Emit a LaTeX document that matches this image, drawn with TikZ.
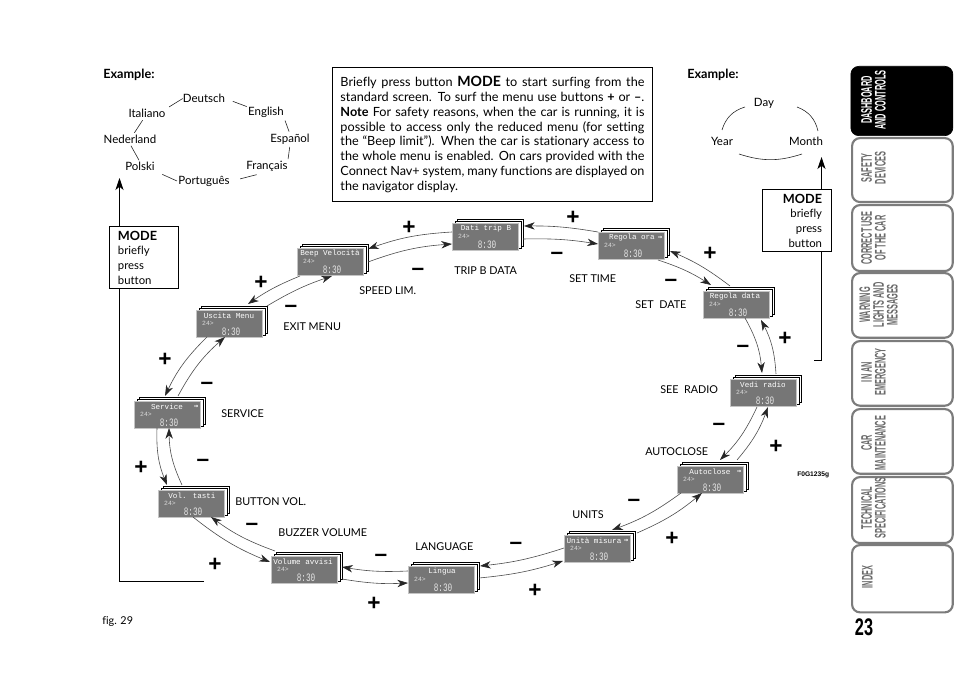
\documentclass[tikz,border=0pt]{standalone}
\usepackage{fontspec}
\usepackage{graphicx}
\setmainfont[Ligatures=NoCommon]{Lato}
\newfontfamily\lcd{Liberation Mono}
\newfontfamily\symb{Liberation Sans}
\newfontfamily\arrowfont{DejaVu Sans Mono}
\usetikzlibrary{arrows.meta}
\definecolor{scrgray}{HTML}{767676}
\definecolor{scredge}{HTML}{C4C4C4}
\definecolor{tabgray}{HTML}{7C7C7C}
\definecolor{tabtext}{HTML}{6A6A6A}
\tikzset{
  scr/.style={draw=scredge,fill=scrgray,line width=.5pt,minimum width=49.5pt,minimum height=20pt,inner sep=0pt,anchor=north west},
  scrback/.style={draw=black,fill=white,line width=.7pt,minimum width=49.5pt,minimum height=20pt,inner sep=0pt,anchor=north west},
  scrtitle/.style={text=white,font=\lcd\fontsize{5.7}{6}\selectfont,inner sep=0pt},
  scrsmall/.style={text=white!85!black,font=\lcd\fontsize{4.8}{5}\selectfont,inner sep=0pt},
  scrtime/.style={text=white!90!black,font=\lcd\fontsize{8.5}{9}\selectfont,inner sep=0pt},
  flow/.style={draw=black!70,line width=.45pt,-{Stealth[length=8pt,width=5.5pt,inset=2.4pt,color=black!85,fill=black!85]}},
  lbl/.style={font=\fontsize{8.1}{10}\selectfont,inner sep=0pt,anchor=west,yshift=-.6pt},
  lang/.style={font=\fontsize{8.6}{10}\selectfont,inner sep=0pt,yshift=-.4pt},
  thinline/.style={draw=black!85,line width=.45pt},
  modebox/.style={draw=black,line width=.7pt,fill=white,font=\fontsize{8.5}{11}\selectfont,inner xsep=6.75pt,inner ysep=0pt,text width=38.3pt,minimum height=46.5pt},
  modeline/.style={draw=black,line width=.7pt},
  modetip/.style={-{Stealth[length=9pt,width=6pt,inset=2.5pt]}},
  pm/.style={font=\symb\bfseries\fontsize{17}{17}\selectfont,inner sep=0pt,yshift=-1.4pt},
  tab/.style={draw=tabgray,line width=1.6pt,fill=white,rounded corners=6pt,minimum width=75.5pt,inner sep=0pt,anchor=north west},
  tabdark/.style={draw=black,line width=.5pt,fill=black,rounded corners=6pt,minimum width=76.5pt,inner sep=0pt,anchor=north west},
  tabtxt/.style={text=tabtext,inner sep=0pt,rotate=90,font=\symb\bfseries\fontsize{11.5}{9.6}\selectfont},
}
\newcommand\screen[6]{%
  \node[scrback] (#1-b) at (#2+4.5,#3-4) {};
  \node[scrback] (#1-a) at (#2+2.5,#3-2) {};
  \node[scr] (#1) at (#2,#3) {};
  \node[scrtitle] (#1-t) at (#2+#5,#3+6) {#4};
  \node[scrsmall] (#1-s) at (#2+12,#3+13) {24>};
  \node[scrtime,xscale=.68] (#1-h) at (#2+35,#3+21.5) {8:30};
  \node[scrtitle] (#1-r) at (#2+62,#3+6) {#6};
}
\newcommand\flowto[5]{\draw[flow] ([shift={(#2)}]#1.north west) to[bend right=#5] ([shift={(#4)}]#3.north west);}
\newcommand\tabwords[1]{\scalebox{.48}[1]{\renewcommand\arraystretch{.8}\begin{tabular}{@{}c@{}}#1\end{tabular}}}
\newcommand\rar{{\arrowfont\bfseries\fontsize{5.5}{5}\selectfont →}}
\newcommand\bigmode{\textbf{\fontsize{9.5}{11}\selectfont MODE}}
\setlength{\parindent}{0pt}
\begin{document}
\begin{tikzpicture}[x=.75pt,y=-.75pt]
\useasboundingbox (0,0) rectangle (954,698);

% side tabs
\node[tabdark,minimum height=52pt] (tab1) at (850.5,66) {};
\node[tab,minimum height=48pt] (tab2) at (851,137) {};
\node[tab,minimum height=49.5pt] (tab3) at (851,204) {};
\node[tab,minimum height=48.5pt] (tab4) at (851,272) {};
\node[tab,minimum height=48.5pt] (tab5) at (851,340) {};
\node[tab,minimum height=48.5pt] (tab6) at (851,408) {};
\node[tab,minimum height=49.5pt] (tab7) at (851,476) {};
\node[tab,minimum height=50.5pt] (tab8) at (851,544) {};
\node[tabtxt,text=white] (tx1) at (875,100) {\tabwords{DASHBOARD\\AND CONTROLS}};
\node[tabtxt] (tx2) at (875,168) {\tabwords{SAFETY\\DEVICES}};
\node[tabtxt] (tx3) at (875,238) {\tabwords{CORRECT USE\\OF THE CAR}};
\node[tabtxt] (tx4) at (880,305) {\tabwords{WARNING\\LIGHTS AND\\MESSAGES}};
\node[tabtxt] (tx5) at (875,372) {\tabwords{IN AN\\EMERGENCY}};
\node[tabtxt] (tx6) at (875,443) {\tabwords{CAR\\MAINTENANCE}};
\node[tabtxt] (tx7) at (875,508) {\tabwords{TECHNICAL\\SPECIFICATIONS}};
\node[tabtxt] (tx8) at (869,577) {\tabwords{INDEX}};
\node[inner sep=0pt,font=\symb\bfseries\fontsize{18}{18}\selectfont] (pagenum) at (864,627) {\scalebox{.68}[1]{23}};

% paragraph
\node[draw=black,line width=.7pt,anchor=north west,inner xsep=6pt,inner ysep=6.75pt,text width=228pt,align=justify,font=\fontsize{9.5}{11.1}\selectfont] (para) at (332,67) {Briefly press button \textbf{\fontsize{10.6}{11.1}\selectfont MODE} to start surfing from the\linebreak
standard screen. To surf the menu use buttons \textbf{+} or \textbf{–}.\linebreak
\textbf{Note} For safety reasons, when the car is running, it is\linebreak
possible to access only the reduced menu (for setting\linebreak
the “Beep limit”). When the car is stationary access to\linebreak
the whole menu is enabled. On cars provided with the\linebreak
Connect Nav+ system, many functions are displayed on\linebreak
the navigator display.};

% example labels
\node[lbl,font=\bfseries\fontsize{9.5}{10}\selectfont] (ex1) at (103,74) {Example:};
\node[lbl,font=\bfseries\fontsize{9.5}{10}\selectfont] (ex2) at (687,74) {Example:};
\node[lbl] (fig) at (102,620.5) {fig. 29};
\node[lbl,font=\symb\bfseries\fontsize{5}{6}\selectfont] (code) at (797,474) {F0G1235g};

% language ring
\node[lang] (deutsch) at (204,98) {Deutsch};
\node[lang] (english) at (266,112) {English};
\node[lang] (espanol) at (290,139) {Español};
\node[lang] (francais) at (267,166) {Français};
\node[lang] (portugues) at (204,181) {Português};
\node[lang] (polski) at (140,166) {Polski};
\node[lang] (nederland) at (130,139) {Nederland};
\node[lang] (italiano) at (147,113) {Italiano};
\draw[thinline,shorten >=3pt] (deutsch.west) -- (italiano.north east);
\draw[thinline,shorten <=6pt,shorten >=1pt] (deutsch.east) -- (english.north west);
\draw[thinline,shorten <=2pt,shorten >=2pt] (english.south east) -- (espanol.north);
\draw[thinline,shorten <=1.5pt,shorten >=1.5pt] (espanol.south) -- (francais.north east);
\draw[thinline,shorten <=8pt,shorten >=8pt] (francais.south) -- (portugues.east);
\draw[thinline,shorten <=1pt,shorten >=6pt] (portugues.west) -- (polski.south east);
\draw[thinline,shorten <=1.5pt,shorten >=1.5pt] (polski.north) -- (nederland.south);
\draw[thinline,shorten <=2pt,shorten >=2pt] (nederland) -- (italiano);

% date ring
\node[lang] (day) at (764,103) {Day};
\node[lang] (year) at (722,141) {Year};
\node[lang] (month) at (806,141) {Month};
\coordinate (c1) at (745,107);
\coordinate (c2) at (722,130);
\coordinate (c3) at (797,107);
\coordinate (c4) at (818,131);
\coordinate (c5) at (739,154);
\coordinate (c6) at (802,154);
\draw[thinline] (c1) to[bend right=28] (c2);
\draw[thinline] (c3) to[bend left=28] (c4);
\draw[thinline] (c5) to[bend right=18] (c6);

% mode boxes
\node[modebox,anchor=north west,align=left] (modeL) at (108.5,226) {\bigmode\\briefly\\press\\button};
\node[modebox,anchor=north west,align=right] (modeR) at (761.5,189) {\bigmode\\briefly\\press\\button};
\coordinate (ltip) at (119.5,178);
\coordinate (lturn) at (119.5,581);
\coordinate (lend) at (204,581);
\coordinate (rtip) at (821.5,157);
\coordinate (rturn) at (821.5,360);
\coordinate (rend) at (814,360);
\draw[modeline] (lend) -- (lturn) -- (lturn |- modeL.south);
\draw[modeline,modetip] (lturn |- modeL.north) -- (ltip);
\draw[modeline] (rend) -- (rturn) -- (rturn |- modeR.south);
\draw[modeline,modetip] (rturn |- modeR.north) -- (rtip);

% screens
\screen{dati}{452}{223}{Dati trip B}{34}{}
\screen{beep}{297}{248}{Beep Velocità}{33}{}
\screen{uscita}{196}{310}{Uscita Menu}{33}{}
\screen{service}{134}{401}{Service}{33}{\rar}
\screen{vol}{158}{490}{Vol. tasti}{34}{}
\screen{volume}{271}{556}{Volume avvisi}{32}{}
\screen{lingua}{408}{566}{Lingua}{34}{}
\screen{units}{564}{535}{Unità misura}{30}{\rar}
\screen{auto}{677}{466}{Autoclose}{33}{\rar}
\screen{radio}{730}{379}{Vedi radio}{33}{}
\screen{data}{703}{291}{Regola data}{32}{}
\screen{ora}{598}{232}{Regola ora}{34}{\rar}

% connectors
\flowto{dati}{0,9}{beep}{71,1}{8}
\flowto{beep}{71,14}{dati}{0,21}{-8}
\flowto{ora}{0,0}{dati}{72,3}{5}
\flowto{dati}{71,16}{ora}{0,12}{-5}
\flowto{data}{27,-5}{ora}{72,19}{7}
\flowto{ora}{60,28}{data}{8,-6}{-7}
\flowto{radio}{46,-5}{data}{58,29}{12}
\flowto{data}{42,27}{radio}{32,-6}{-12}
\flowto{auto}{60,-6}{radio}{38,28}{10}
\flowto{radio}{27,28}{auto}{43,-6}{-10}
\flowto{units}{73,-2}{auto}{25,27}{8}
\flowto{auto}{4,27}{units}{48,-5}{-8}
\flowto{lingua}{71,12}{units}{-1,26}{6}
\flowto{units}{0,13}{lingua}{72,0}{-6}
\flowto{volume}{71,23}{lingua}{0,17}{6}
\flowto{lingua}{0,5}{volume}{71,11}{-6}
\flowto{vol}{35,27}{volume}{-1,6}{8}
\flowto{volume}{4,-5}{vol}{53,27}{-8}
\flowto{service}{23,27}{vol}{9,-5}{12}
\flowto{vol}{24,-5}{service}{35,27}{-12}
\flowto{uscita}{11,27}{service}{31,-5}{10}
\flowto{service}{44,-5}{uscita}{29,27}{-10}
\flowto{beep}{3,28}{uscita}{52,-6}{6}
\flowto{uscita}{71,-4}{beep}{35,28}{-6}

% labels
\node[lbl] (l1) at (359,290) {SPEED LIM.};
\node[lbl] (l2) at (454,270) {TRIP B DATA};
\node[lbl] (l3) at (569,278) {SET TIME};
\node[lbl] (l4) at (635,304) {SET\ \ DATE};
\node[lbl] (l5) at (283,326) {EXIT MENU};
\node[lbl] (l6) at (221,413) {SERVICE};
\node[lbl] (l7) at (660,389) {SEE\ \ RADIO};
\node[lbl] (l8) at (645,451) {AUTOCLOSE};
\node[lbl] (l9) at (572,514) {UNITS};
\node[lbl] (l10) at (415,546) {LANGUAGE};
\node[lbl] (l11) at (278,532) {BUZZER VOLUME};
\node[lbl] (l12) at (235,501) {BUTTON VOL.};

% plus and minus signs
\foreach \n/\x/\y in {a/409/226,b/573/216,c/710/252,d/785/337,e/776/445,f/672/537,g/535/589,h/374/602,i/215/563,j/141/466,k/165/358,l/261/281}
  \node[pm] (plus\n) at (\x,\y) {+};
\foreach \n/\x/\y in {a/418/270,b/557/254,c/671/281,d/743/347,e/719/425,f/634/501,g/516/544,h/381/556,i/252/525,j/203/461,k/207/384,l/291/307}
  \node[pm] (minus\n) at (\x,\y) {–};
\end{tikzpicture}
\end{document}
